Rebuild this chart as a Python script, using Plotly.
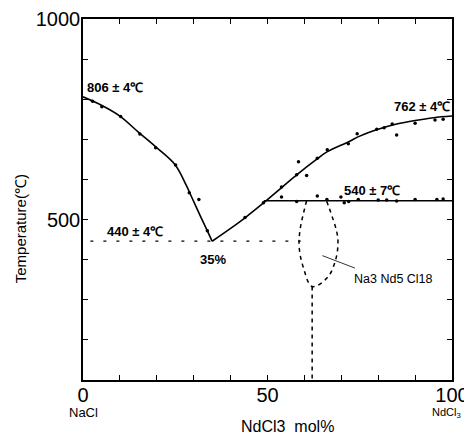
import plotly.graph_objects as go

# ---- data ----
# left liquidus curve (NaCl side)
liq_left_x = [0, 5, 10, 15, 20, 25, 28, 29.5, 32, 33.7, 35]
liq_left_t = [806, 785, 758, 718, 679, 636, 585, 555, 505, 472, 446]
# right liquidus curve (NdCl3 side)
liq_right_x = [35, 40, 44, 49, 54, 58, 63, 66, 72, 75, 80, 85, 90, 95, 100]
liq_right_t = [446, 478, 505, 542, 581, 612, 648, 668, 694, 708, 725, 738, 747, 754, 758]
# measured points
pts_x = [2.6, 5.1, 10.2, 15.4, 19.7, 25.1, 28.8, 31.4, 33.7,
         43.9, 48.9, 53.8, 57.9, 58.4, 60.6, 63.5, 66.2, 71.9, 74.3, 79.6, 81.6, 83.8, 85, 90, 95.4, 97.6,
         53.8, 57.9, 63.5, 66.1, 69.9, 70.8, 72, 74.6, 80, 82.3, 85, 90, 95.9, 97.6]
pts_t = [795, 781, 757, 713, 679, 636, 567, 550, 472,
         505, 542, 581, 612, 644, 610, 653, 674, 689, 714, 725, 729, 738, 711, 740, 748, 750,
         556, 545, 559, 550, 556, 542, 545, 550, 549, 549, 546, 550, 550, 551]
# peritectic line 540 C
peri_x = [49, 100]
peri_t = [547, 547]
# eutectic line 440 C
eut_x = [2, 59]
eut_t = [446, 446]
# Na3Nd5Cl18 region outline
comp_x = [60.6, 58.8, 58.6, 59.7, 62.1, 66.3, 68.5, 69.1, 68.7, 66.0]
comp_t = [547, 473, 430, 381, 333, 356, 401, 443, 472, 547]
comp_line_x = [62.1, 62.1]
comp_line_t = [333, 100]
# leader line for the compound label
lead_x = [64.9, 73.7]
lead_t = [410, 379]

y_ticks = [100, 200, 300, 400, 500, 600, 700, 800, 900, 1000]
y_ticktext = ["", "", "", "", "500", "", "", "", "", "1000"]
x_ticks = [0, 10, 20, 30, 40, 50, 60, 70, 80, 90, 100]
x_ticktext = ["0", "", "", "", "", "50", "", "", "", "", "100"]

FONT = "Liberation Sans, Arial, sans-serif"
fig = go.Figure()

fig.add_trace(go.Scatter(x=liq_left_x, y=liq_left_t, mode="lines", line=dict(color="black", width=1.6, shape="spline"), showlegend=False))
fig.add_trace(go.Scatter(x=liq_right_x, y=liq_right_t, mode="lines", line=dict(color="black", width=1.6, shape="spline"), showlegend=False))
fig.add_trace(go.Scatter(x=peri_x, y=peri_t, mode="lines", line=dict(color="black", width=1.6), showlegend=False))
fig.add_trace(go.Scatter(x=eut_x, y=eut_t, mode="lines", line=dict(color="black", width=1.2, dash="3px,10px"), showlegend=False))
fig.add_trace(go.Scatter(x=comp_x, y=comp_t, mode="lines", line=dict(color="black", width=1.5, dash="4px,4px", shape="spline"), showlegend=False))
fig.add_trace(go.Scatter(x=comp_line_x, y=comp_line_t, mode="lines", line=dict(color="black", width=1.5, dash="4px,4px"), showlegend=False))
fig.add_trace(go.Scatter(x=lead_x, y=lead_t, mode="lines", line=dict(color="black", width=0.8), showlegend=False))
fig.add_trace(go.Scatter(x=pts_x, y=pts_t, mode="markers", marker=dict(color="black", size=3.5), showlegend=False))

ann = [
    dict(text="<b>806 ± 4℃</b>", x=0.6, y=829, xanchor="left", yanchor="middle", font=dict(size=13, family=FONT)),
    dict(text="<b>762 ± 4℃</b>", x=100, y=782, xanchor="right", yanchor="middle", font=dict(size=13, family=FONT)),
    dict(text="<b>540 ± 7℃</b>", x=70.1, y=573, xanchor="left", yanchor="middle", font=dict(size=13, family=FONT)),
    dict(text="<b>440 ± 4℃</b>", x=6, y=471, xanchor="left", yanchor="middle", font=dict(size=13, family=FONT)),
    dict(text="<b>35%</b>", x=35.2, y=400, xanchor="center", yanchor="middle", font=dict(size=13, family=FONT)),
    dict(text="Na3 Nd5 Cl18", x=72.8, y=352, xanchor="left", yanchor="middle", font=dict(size=12.5, family=FONT)),
]
for a in ann:
    a.update(xref="x", yref="y", showarrow=False)
    a["font"]["color"] = "black"
    fig.add_annotation(**a)

fig.add_annotation(text="Temperature(℃)", xref="paper", yref="paper", x=-0.171, y=0.42,
                   xanchor="center", yanchor="middle",
                   textangle=-90, showarrow=False, font=dict(size=15, family=FONT, color="black"))
fig.add_annotation(text="NdCl3  mol%", xref="paper", yref="paper", x=0.554, y=-0.13,
                   xanchor="center", yanchor="middle", showarrow=False, font=dict(size=16, family=FONT, color="black"))
fig.add_annotation(text="NaCl", xref="paper", yref="paper", x=0.0, y=-0.091,
                   xanchor="center", yanchor="middle", showarrow=False, font=dict(size=13, family=FONT, color="black"))
fig.add_annotation(text="NdCl<sub>3</sub>", xref="paper", yref="paper", x=1.03, y=-0.091,
                   xanchor="right", yanchor="middle", showarrow=False, font=dict(size=11, family=FONT, color="black"))

fig.update_layout(
    width=472, height=434,
    margin=dict(l=75, r=28, t=11, b=62, autoexpand=False),
    plot_bgcolor="white", paper_bgcolor="white",
    font=dict(family=FONT, color="black"),
)
fig.update_xaxes(range=[0, 100], tickvals=x_ticks, ticktext=x_ticktext, ticks="inside", ticklen=5,
                 tickcolor="black", showline=True, linecolor="black", linewidth=1.5, mirror="ticks",
                 showgrid=False, zeroline=False, ticklabelstandoff=-4, automargin=False,
                 tickfont=dict(size=20, family=FONT, color="black"))
fig.update_yaxes(range=[100, 1000], tickvals=y_ticks, ticktext=y_ticktext, ticks="inside", ticklen=5,
                 tickcolor="black", showline=True, linecolor="black", linewidth=1.5, mirror="ticks",
                 showgrid=False, zeroline=False, ticklabelstandoff=-3, automargin=False,
                 tickfont=dict(size=20, family=FONT, color="black"))

fig.write_html("out.html")
